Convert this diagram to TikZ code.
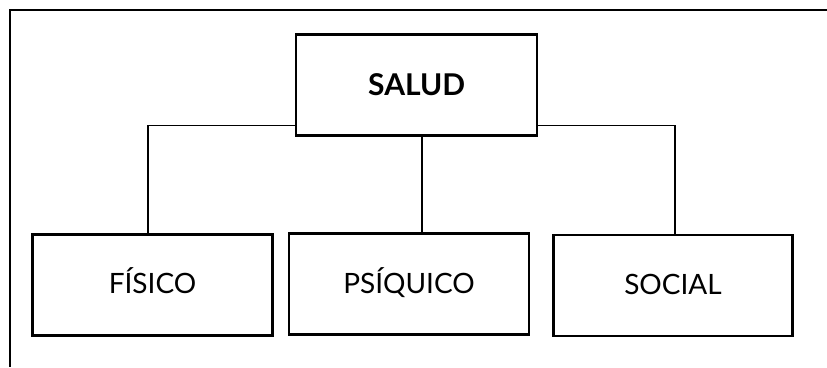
\documentclass[tikz,border=0pt]{standalone}
\usepackage{fontspec}
\setmainfont{Lato}
\begin{document}
\begin{tikzpicture}[x=1pt,y=-1pt,
  box/.style={draw=black,line width=2.4pt,fill=white,inner sep=0pt,font=\fontsize{28}{32}\selectfont},
  lowbox/.style={box,minimum height=101pt,text height=20pt,text depth=0pt},
  conn/.style={draw=black,line width=1.9pt}]
\useasboundingbox (0,0) rectangle (827,367);
% frame (only top and left edges visible)
\coordinate (ftl) at (10,10);
\coordinate (ftr) at (827,10);
\coordinate (fbl) at (10,367);
\draw[line width=2.4pt] (ftr) -- (ftl) -- (fbl);
% nodes
\node[box,minimum width=241pt,minimum height=101pt,font=\fontsize{30}{34}\selectfont\bfseries] (salud) at (416.7,85) {SALUD};
\node[lowbox,minimum width=240pt,text height=18pt] (fisico) at (152.5,284.8) {FÍSICO};
\node[lowbox,minimum width=240pt,text height=19pt] (psiquico) at (409,283.8) {PSÍQUICO};
\node[lowbox,minimum width=239pt,text height=17pt] (social) at (673,285.5) {SOCIAL};
% connector points
\coordinate (hl) at (148,125.5);
\coordinate (hr) at (675,125.5);
\coordinate (mid) at (422,0);
\draw[conn] (salud.west |- hl) -- (hl) -- (hl |- fisico.north);
\draw[conn] (salud.east |- hr) -- (hr) -- (hr |- social.north);
\draw[conn] (mid |- salud.south) -- (mid |- psiquico.north);
\end{tikzpicture}
\end{document}
